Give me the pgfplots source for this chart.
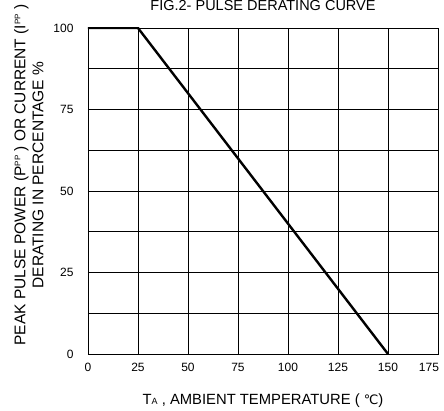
\documentclass[border=0pt]{standalone}
\usepackage{pgfplots}
\pgfplotsset{compat=1.18}
\usepackage{fontspec}
\setmainfont{Liberation Sans}
\newfontfamily\dejavu{DejaVu Sans}
\newcommand{\sm}[1]{\raisebox{0.6ex}{\fontsize{8}{8}\selectfont #1}}
\begin{document}
\begin{tikzpicture}
  \begin{axis}[
      scale only axis,
      width=350pt, height=326pt,
      xmin=0, xmax=175, ymin=0, ymax=100,
      xtick={0,25,...,150},
      extra x ticks={175},
      extra x tick style={xticklabel style={xshift=-9pt}},
      ytick={0,25,50,75,100},
      minor ytick={12.5,37.5,62.5,87.5},
      grid=both,
      major grid style={black, line width=0.6pt},
      minor grid style={black, line width=0.6pt},
      axis line style={black, line width=0.8pt},
      major tick length=0pt, minor tick length=0pt,
      tick label style={font=\fontsize{12}{13}\selectfont},
      /pgf/number format/assume math mode=true,
      xticklabel style={yshift=-6pt},
      yticklabel style={xshift=-11pt},
      title={FIG.2- PULSE DERATING CURVE},
      title style={at={(axis description cs:0.5,1)}, anchor=base, yshift=11pt, font=\fontsize{14.5}{15}\selectfont},
      xlabel={T\raisebox{0pt}{\fontsize{9}{9}\selectfont A} , AMBIENT TEMPERATURE ( {\dejavu\fontsize{13}{13}\selectfont ℃})},
      xlabel style={at={(axis description cs:0.5,0)}, anchor=base, yshift=-50pt, font=\fontsize{14.8}{16}\selectfont},
      ylabel={PEAK PULSE POWER (P\sm{PP} ) OR CURRENT (I\sm{PP} )\\DERATING IN PERCENTAGE \%},
      ylabel style={at={(axis description cs:-0.169,0.549)}, anchor=center, align=center, font=\fontsize{15.5}{18}\selectfont},
    ]
    \addplot[black, line width=2.4pt] coordinates {
      (0,100) (25,100) (150,0)
    };
  \end{axis}
  \pgfresetboundingbox
  \useasboundingbox ([xshift=-88pt,yshift=-56pt]current axis.south west) rectangle ([xshift=6pt,yshift=28pt]current axis.north east);
\end{tikzpicture}
\end{document}
